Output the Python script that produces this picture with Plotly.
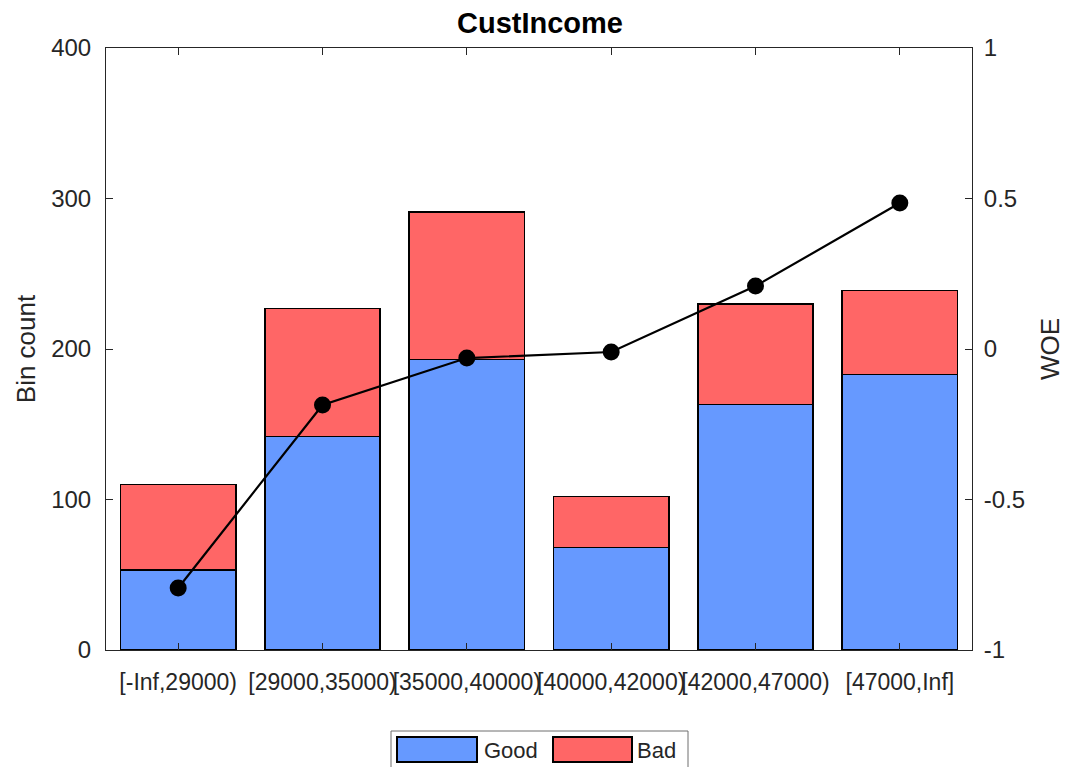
import plotly.graph_objects as go

categories = ["[-Inf,29000)", "[29000,35000)", "[35000,40000)",
              "[40000,42000)", "[42000,47000)", "[47000,Inf]"]
good = [53, 142, 193, 68, 163, 183]
bad = [57, 85, 98, 34, 67, 56]
woe = [-0.794, -0.186, -0.030, -0.010, 0.209, 0.485]
left_ticks = [0, 100, 200, 300, 400]
right_ticks = [-1, -0.5, 0, 0.5, 1]
right_tick_text = ["-1", "-0.5", "0", "0.5", "1"]

GOOD_COLOR = "#6699FF"
BAD_COLOR = "#FF6666"
TXT = "#262626"
FONT = "Liberation Sans, Arial, Helvetica, sans-serif"

W, H = 1074, 767
L, R, T, B = 106, 972, 48, 650


def px(x):
    return (x - L) / (R - L)


def py(y):
    return (B - y) / (B - T)


fig = go.Figure()
fig.add_trace(go.Bar(x=categories, y=good, name="Good",
                     marker=dict(color=GOOD_COLOR, line=dict(color="black", width=1.5)),
                     width=0.8, showlegend=False))
fig.add_trace(go.Bar(x=categories, y=bad, name="Bad",
                     marker=dict(color=BAD_COLOR, line=dict(color="black", width=1.5)),
                     width=0.8, showlegend=False))
fig.add_trace(go.Scatter(x=categories, y=woe, yaxis="y2", mode="lines+markers",
                         line=dict(color="black", width=2.2),
                         marker=dict(color="black", size=17),
                         showlegend=False, name="WOE"))

shapes = [
    dict(type="rect", xref="paper", yref="paper", x0=px(391), x1=px(688), y0=py(775), y1=py(731),
         line=dict(color="#6e6e6e", width=1), fillcolor="white", layer="above"),
    dict(type="rect", xref="paper", yref="paper", x0=px(397), x1=px(477), y0=py(762), y1=py(737),
         line=dict(color="black", width=2), fillcolor=GOOD_COLOR, layer="above"),
    dict(type="rect", xref="paper", yref="paper", x0=px(553), x1=px(632), y0=py(762), y1=py(737),
         line=dict(color="black", width=2), fillcolor=BAD_COLOR, layer="above"),
]
annotations = [
    dict(text="Good", xref="paper", yref="paper", x=px(482), y=py(750), xanchor="left",
         yanchor="middle", showarrow=False, font=dict(size=22, color=TXT, family=FONT)),
    dict(text="Bad", xref="paper", yref="paper", x=px(635), y=py(750), xanchor="left",
         yanchor="middle", showarrow=False, font=dict(size=22, color=TXT, family=FONT)),
]

fig.update_layout(
    width=W, height=H,
    margin=dict(l=L, r=W - R, t=T, b=H - B, pad=0, autoexpand=False),
    paper_bgcolor="white", plot_bgcolor="white",
    barmode="stack", bargap=0.2,
    font=dict(family=FONT, color=TXT, size=23),
    title=dict(text="<b>CustIncome</b>", x=px(540), xref="paper", xanchor="center",
               y=1 - 23 / H, yref="container", yanchor="middle", automargin=False,
               font=dict(size=29, color="black", family=FONT)),
    xaxis=dict(type="category", range=[-0.5, 5.5], showline=True, linecolor=TXT, linewidth=1,
               mirror="ticks", ticks="inside", ticklen=7, tickcolor=TXT, tickangle=0,
               showgrid=False, zeroline=False, ticklabelstandoff=11, automargin=False,
               tickfont=dict(size=23, color=TXT)),
    yaxis=dict(range=[0, 400], tickvals=left_ticks, showline=True, linecolor=TXT, linewidth=1,
               ticks="inside", ticklen=7, tickcolor=TXT, showgrid=False, zeroline=False,
               ticklabelstandoff=9, automargin=False, tickfont=dict(size=24, color=TXT),
               title=dict(text="Bin count", standoff=8, font=dict(size=26, color=TXT))),
    yaxis2=dict(range=[-1, 1], overlaying="y", side="right", tickvals=right_ticks,
                ticktext=right_tick_text, showline=True, linecolor=TXT, linewidth=1,
                ticks="inside", ticklen=7, tickcolor=TXT, showgrid=False, zeroline=False,
                ticklabelstandoff=6, automargin=False, tickfont=dict(size=24, color=TXT),
                title=dict(text="WOE", standoff=16, font=dict(size=26, color=TXT))),
    shapes=shapes,
    annotations=annotations,
)

fig.write_html("out.html", config={"displayModeBar": False},
               post_script="document.body.style.margin='0';document.body.style.overflow='hidden';")
